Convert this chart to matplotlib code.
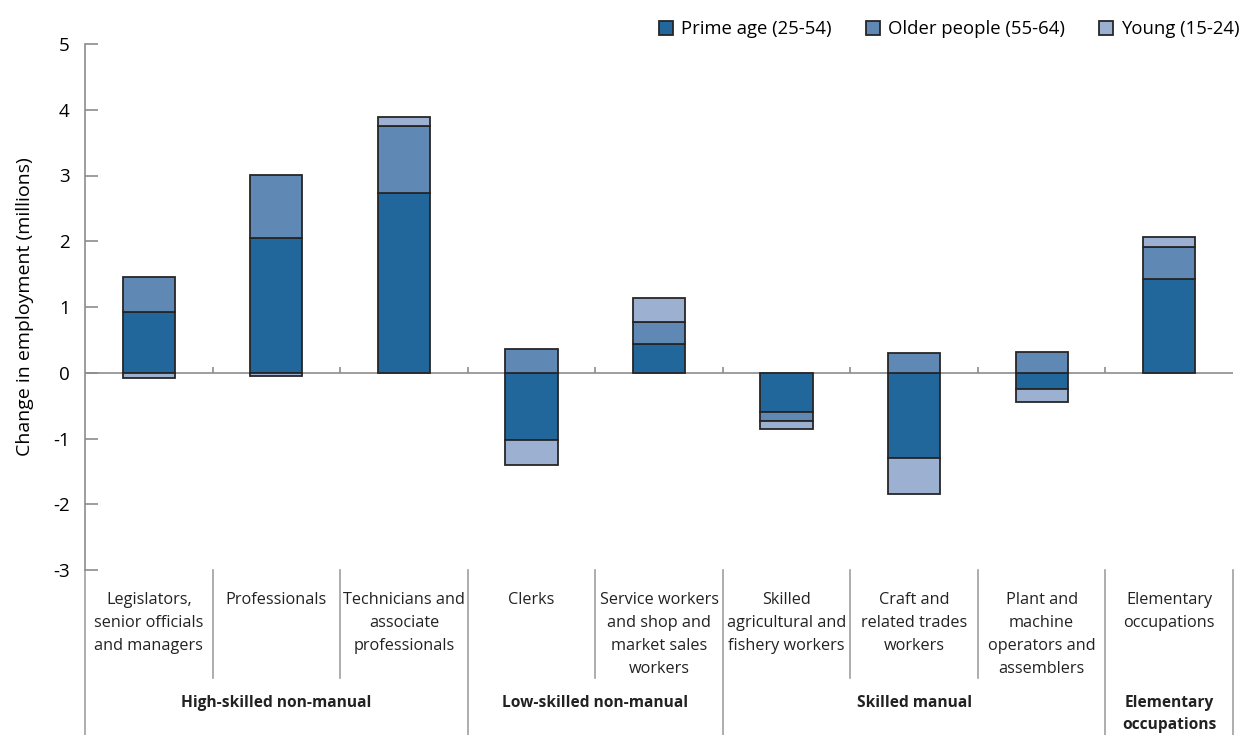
import matplotlib.pyplot as plt
import numpy as np

plt.rcParams['font.family'] = ['Open Sans', 'DejaVu Sans']
plt.rcParams['axes.unicode_minus'] = False

categories = ['Legislators,\nsenior officials\nand managers', 'Professionals',
              'Technicians and\nassociate\nprofessionals', 'Clerks',
              'Service workers\nand shop and\nmarket sales\nworkers',
              'Skilled\nagricultural and\nfishery workers',
              'Craft and\nrelated trades\nworkers',
              'Plant and\nmachine\noperators and\nassemblers',
              'Elementary\noccupations']
prime = [0.92, 2.05, 2.74, -1.03, 0.44, -0.59, -1.29, -0.25, 1.43]
older = [0.54, 0.96, 1.01, 0.36, 0.33, -0.14, 0.30, 0.32, 0.49]
young = [-0.08, -0.05, 0.14, -0.38, 0.37, -0.12, -0.56, -0.19, 0.15]
series_names = ['Prime age (25-54)', 'Older people (55-64)', 'Young (15-24)']
colors = ['#22679b', '#5f88b5', '#9cb1d1']

groups = ['High-skilled non-manual', 'Low-skilled non-manual', 'Skilled manual',
          'Elementary\noccupations']
group_sizes = [3, 2, 3, 1]

fig = plt.figure(figsize=(12.42, 7.35), dpi=100)
ax = fig.add_axes([85 / 1242, 1 - 570 / 735, 1148 / 1242, 526 / 735])

x = np.arange(len(categories)) + 0.5
width = 0.41
pos_base = np.zeros(len(categories))
neg_base = np.zeros(len(categories))
for vals, col, name in zip([prime, older, young], colors, series_names):
    vals = np.array(vals)
    base = np.where(vals >= 0, pos_base, neg_base)
    ax.bar(x, vals, width, bottom=base, color=col, edgecolor='#262626',
           linewidth=1.3, label=name, zorder=3)
    pos_base += np.where(vals >= 0, vals, 0)
    neg_base += np.where(vals < 0, vals, 0)

ax.set_xlim(0, len(categories))
ax.set_ylim(-3, 5)
ax.axhline(0, color='#8c8c8c', linewidth=1.2, zorder=2)
ax.vlines(np.arange(1, len(categories)), 0, 0.09, color='#8c8c8c', linewidth=1.2, zorder=2)

for s in ['top', 'right', 'bottom']:
    ax.spines[s].set_visible(False)
ax.spines['left'].set_color('#8c8c8c')
ax.spines['left'].set_linewidth(1.2)
ax.set_xticks([])
ax.set_yticks(range(-3, 6))
ax.tick_params(axis='y', direction='in', length=9, width=1.2, color='#8c8c8c',
               labelsize=13.5, pad=11)
ax.set_ylabel('Change in employment (millions)', fontsize=14, labelpad=14)

# category labels and separators below the plot
sep_kw = dict(transform=ax.get_xaxis_transform(), clip_on=False, color='#a0a0a0', linewidth=1.2)
for xi, lab in zip(x, categories):
    ax.text(xi, -0.042, lab, transform=ax.get_xaxis_transform(), ha='center', va='top',
            fontsize=11.7, linespacing=1.58, color='#222222')
bounds = np.cumsum(group_sizes)
for b in range(1, len(categories)):
    if b not in bounds:
        ax.plot([b, b], [0, -0.205], **sep_kw)
for b in [0] + list(bounds):
    ax.plot([b, b], [0, -0.32], **sep_kw)
starts = np.concatenate([[0], bounds[:-1]])
for g, s, n in zip(groups, starts, group_sizes):
    ax.text(s + n / 2, -0.237, g, transform=ax.get_xaxis_transform(), ha='center', va='top',
            fontsize=11.2, fontweight='bold', linespacing=1.5, color='#222222')

ax.legend(loc='upper right', bbox_to_anchor=(1.004, 0.9825), bbox_transform=fig.transFigure,
          ncol=3, frameon=False, fontsize=13.3, handlelength=0.75, handleheight=0.75,
          handletextpad=0.45, columnspacing=1.85, borderaxespad=0.0)

fig.savefig('out.png', dpi=100)
